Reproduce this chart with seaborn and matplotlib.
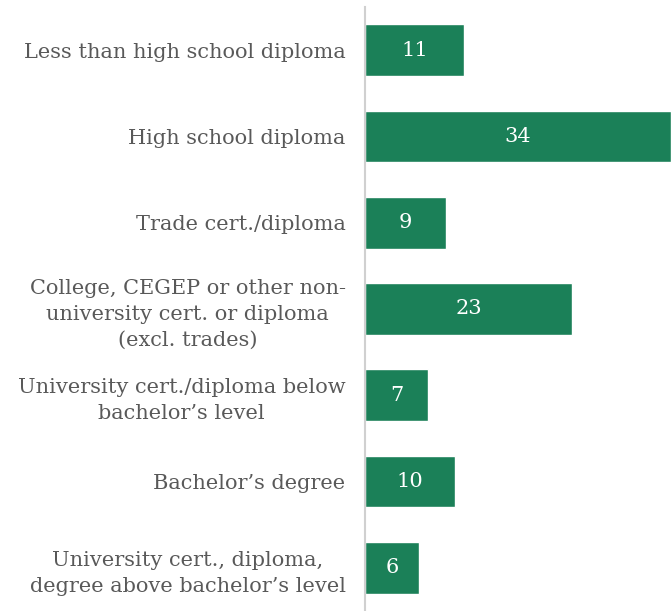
import matplotlib
matplotlib.use("Agg")
import matplotlib.pyplot as plt
import pandas as pd
import seaborn as sns

categories = [
    "Less than high school diploma",
    "High school diploma",
    "Trade cert./diploma",
    "College, CEGEP or other non-\nuniversity cert. or diploma\n(excl. trades)",
    "University cert./diploma below\nbachelor\u2019s level",
    "Bachelor\u2019s degree",
    "University cert., diploma,\ndegree above bachelor\u2019s level",
]
values = [11, 34, 9, 23, 7, 10, 6]

df = pd.DataFrame({"category": categories, "value": values})

sns.set_theme(style="white")
plt.rcParams["font.family"] = ["DejaVu Serif"]

fig = plt.figure(figsize=(6.71, 6.11), dpi=100)
ax = fig.add_axes([365 / 671, 0, 1 - 365 / 671, 1 - 7 / 611])

sns.barplot(data=df, x="value", y="category", orient="h",
            color="#1b8058", saturation=1, width=0.6, ax=ax)

ax.bar_label(ax.containers[0], label_type="center", color="white", fontsize=15)

ax.set_xlim(0, 34)
ax.set_ylim(6.5, -0.5)
ax.set_xlabel("")
ax.set_ylabel("")
ax.set_xticks([])
ax.tick_params(axis="y", length=0, pad=14)
for lbl in ax.get_yticklabels():
    lbl.set_multialignment("center")
    lbl.set_fontsize(15)
    lbl.set_linespacing(1.45)
    lbl.set_color("#595959")

for side in ["top", "right", "bottom"]:
    ax.spines[side].set_visible(False)
ax.spines["left"].set_color("#d0d0d0")
ax.spines["left"].set_linewidth(1.5)

fig.savefig("out.png", dpi=100)
